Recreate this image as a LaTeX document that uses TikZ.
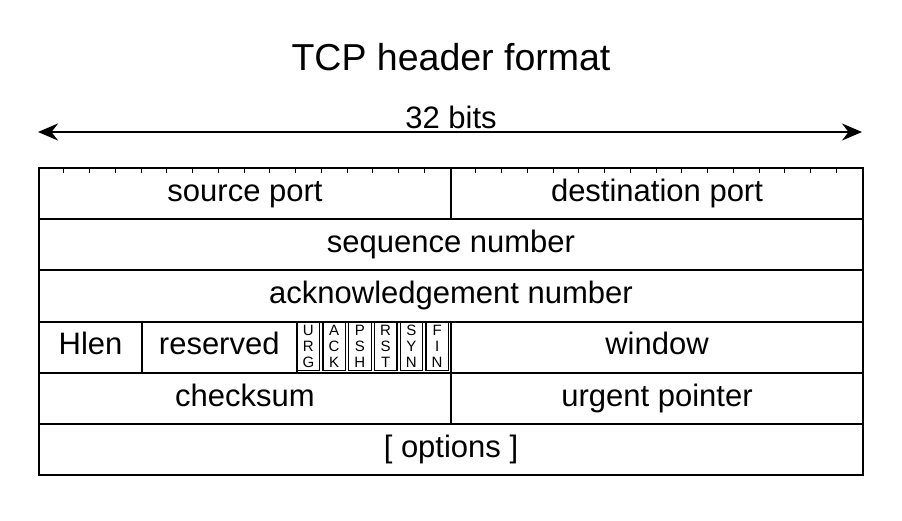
\documentclass[tikz,border=0pt]{standalone}
\usepackage{fontspec}
\setmainfont{Liberation Sans}
\usetikzlibrary{arrows.meta}
\tikzset{
  field/.style={draw, line width=2pt, minimum height=51.2pt, inner sep=0pt,
    text height=22pt, text depth=6.5pt,
    anchor=north west, font=\fontsize{31}{31}\selectfont},
  flagbox/.style={draw, line width=1.2pt, minimum width=22.5pt, minimum height=48pt,
    inner sep=0pt, align=center, font=\fontsize{15}{16}\selectfont},
  tick/.style={line width=1pt},
  bits/.style={line width=2pt, {Stealth[length=20pt,width=17pt]}-{Stealth[length=20pt,width=17pt]}}
}
\begin{document}
\begin{tikzpicture}[x=1pt,y=-1pt]
\useasboundingbox (0,0) rectangle (902,520);

\node[font=\fontsize{37.5}{37.5}\selectfont] (title) at (451,57) {TCP header format};
\node[font=\fontsize{31}{31}\selectfont] (width) at (451,117) {32 bits};
\coordinate (wl) at (38,132);
\coordinate (wr) at (862,132);
\draw[bits] (wl) -- (wr);

% rows
\node[field, minimum width=412pt] (src) at (38,167) {source port};
\node[field, minimum width=412pt] (dst) at (450,167) {destination port};
\node[field, minimum width=824pt] (seq) at (38,218.2) {sequence number};
\node[field, minimum width=824pt] (ack) at (38,269.4) {acknowledgement number};
\node[field, minimum width=103pt] (hlen) at (38,320.6) {Hlen};
\node[field, minimum width=154.5pt] (resv) at (141,320.6) {reserved};
\node[field, minimum width=154.5pt] (flags) at (295.5,320.6) {};
\node[field, minimum width=412pt] (win) at (450,320.6) {window};
\node[field, minimum width=412pt] (csum) at (38,371.8) {checksum};
\node[field, minimum width=412pt] (urg) at (450,371.8) {urgent pointer};
\node[field, minimum width=824pt] (opt) at (38,423) {[ options ]};

% bit ticks
\foreach \b in {1,...,15} {
  \draw[tick] (38+\b*25.75,167) -- ++(0,6);
  \draw[tick] (450+\b*25.75,167) -- ++(0,6);
}

% flag bits
\foreach \f [count=\i from 0] in {{U\\R\\G},{A\\C\\K},{P\\S\\H},{R\\S\\T},{S\\Y\\N},{F\\I\\N}}
  \node[flagbox] (flag\i) at (308.4+\i*25.75,346.2) {\f};
\end{tikzpicture}
\end{document}
